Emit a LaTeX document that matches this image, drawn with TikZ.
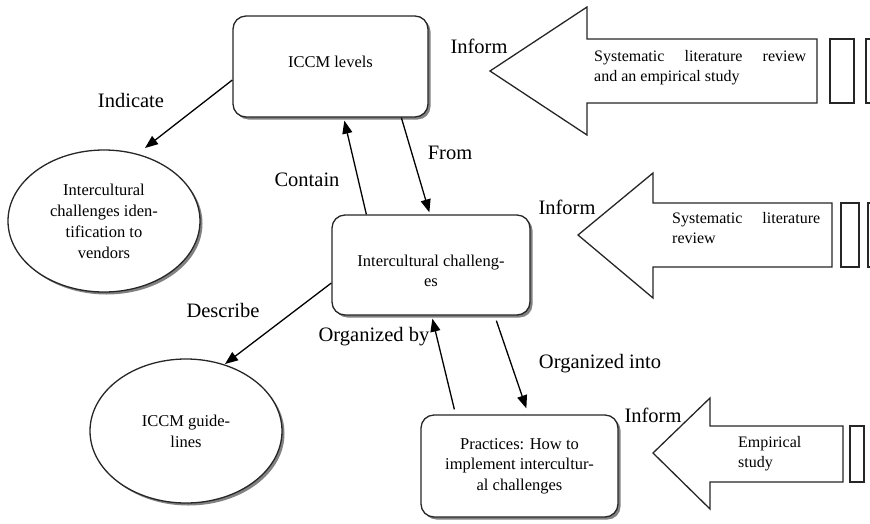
\documentclass[tikz,border=0pt]{standalone}
\usepackage{fontspec}
\setmainfont{Liberation Serif}
\usetikzlibrary{arrows.meta,shapes.geometric,shadows,calc}
\begin{document}
\begin{tikzpicture}[x=1pt,y=-1pt,
  shad/.style={drop shadow={shadow xshift=2.5pt,shadow yshift=-2.5pt,fill=black!70,opacity=0.7}},
  box/.style={draw=black!85,line width=1.3pt,rounded corners=13pt,fill=white,shad,align=center,
    font=\fontsize{16.5}{20.5}\selectfont,inner sep=0pt},
  oval/.style={ellipse,draw=black!85,line width=1.3pt,fill=white,shad,align=center,
    font=\fontsize{16.5}{21}\selectfont,inner sep=0pt},
  itext/.style={align=center,font=\fontsize{16.5}{20.5}\selectfont,inner sep=0pt},
  lab/.style={font=\fontsize{20.5}{24}\selectfont,inner sep=0pt},
  conn/.style={draw=black,line width=1.3pt,-{Triangle[length=13pt,width=10pt]}},
  barrow/.style={draw=black!85,line width=1.3pt,fill=white},
  btext/.style={font=\fontsize{16}{20}\selectfont,inner sep=0pt,anchor=base west}
]
\useasboundingbox (0,0) rectangle (870,523);
\clip (0,0) rectangle (870,523);

% nodes
\node[box,minimum width=195pt,minimum height=101pt] (iccm) at (330.5,66.5) {};
\node[itext] (iccmt) at (330.5,62) {ICCM levels};
\node[box,minimum width=198pt,minimum height=100pt] (ic) at (431,265) {};
\node[itext] (ict) at (431,271) {Intercultural challeng-\\es};
\node[box,minimum width=197pt,minimum height=102pt] (pr) at (519.5,466) {Practices: How to\\implement intercultur-\\al challenges};
\node[oval,minimum width=192pt,minimum height=142pt] (e1) at (104,221) {Intercultural\\challenges iden-\\tification to\\vendors};
\node[oval,minimum width=192pt,minimum height=144pt] (e2) at (186,431) {ICCM guide-\\lines};

% connectors
\draw[conn] ($(iccm.west)+(0,13.5)$) -- ($(e1.center)+(41,-73)$);
\draw[conn] ($(ic.north west)+(35,0)$) -- ($(iccm.south west)+(112,3)$);
\draw[conn] ($(iccm.south west)+(169,0)$) -- ($(ic.north west)+(98,-2)$);
\draw[conn] ($(ic.west)+(0,18)$) -- ($(e2.center)+(39,-67)$);
\draw[conn] ($(pr.north west)+(34,-5)$) -- ($(ic.south west)+(101,3)$);
\draw[conn] ($(ic.south west)+(165,5)$) -- ($(pr.north west)+(106,-6)$);

% labels
\node[lab] (lindicate) at (131,100) {Indicate};
\node[lab] (lcontain) at (307,180) {Contain};
\node[lab] (lfrom) at (450,153) {From};
\node[lab] (ldescribe) at (223,310) {Describe};
\node[lab] (lorgby) at (374,337) {Organized by};
\node[lab] (lorginto) at (600,364) {Organized into};
\node[lab] (linf1) at (479,46) {Inform};
\node[lab] (linf2) at (567,207) {Inform};
\node[lab] (linf3) at (653,415) {Inform};

% block arrow 1
\draw[barrow] (490,71) -- (587,7) -- (587,39) -- (817,39) -- (817,103) -- (587,103) -- (587,135) -- cycle;
\draw[barrow] (830,39) rectangle (854,103);
\draw[barrow] (866,39) rectangle (890,103);
\node[btext] (a1l1) at (594,61) {\hbox to 212pt{Systematic\hfill literature\hfill review}};
\node[btext] (a1l2) at (594,81) {and an empirical study};

% block arrow 2
\draw[barrow] (578,235) -- (653,173) -- (653,203) -- (832,203) -- (832,267) -- (653,267) -- (653,298) -- cycle;
\draw[barrow] (841,203) rectangle (859,267);
\draw[barrow] (868,203) rectangle (890,267);
\node[btext] (a2l1) at (672,223) {\hbox to 148pt{Systematic\hfill literature}};
\node[btext] (a2l2) at (672,243) {review};

% block arrow 3
\draw[barrow] (653,453) -- (710,398) -- (710,426) -- (843,426) -- (843,482) -- (710,482) -- (710,509) -- cycle;
\draw[barrow] (850,426) rectangle (864,482);
\node[btext] (a3l1) at (738,447) {Empirical};
\node[btext] (a3l2) at (738,467) {study};
\end{tikzpicture}
\end{document}
